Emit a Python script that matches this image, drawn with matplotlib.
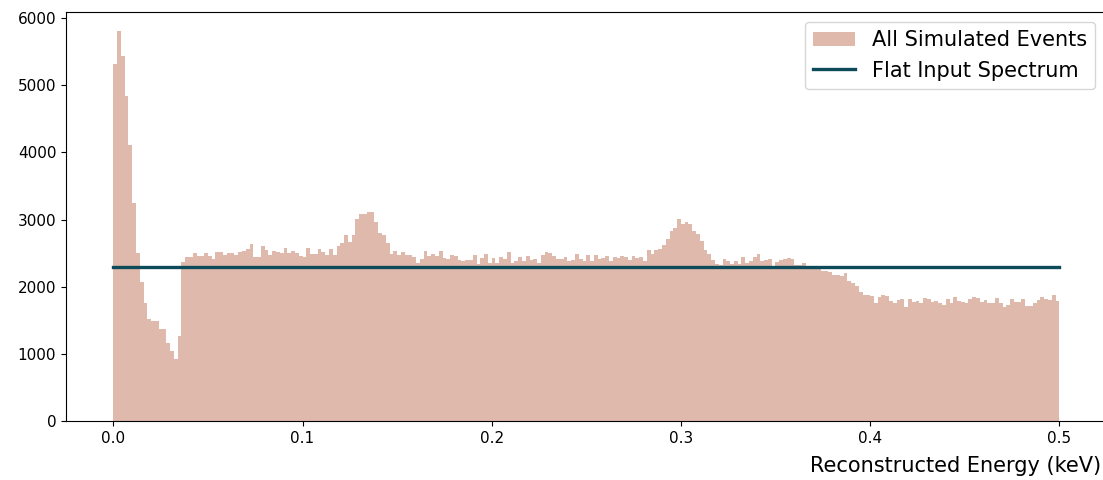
import numpy as np
import matplotlib
matplotlib.use("Agg")
import matplotlib.pyplot as plt

# histogram bins: 250 bins of 2 eV between 0 and 0.5 keV
e_min = 0.0
e_max = 0.5
n_bins = 250

# counts per bin
counts_peak = [5320, 5800, 5436, 4836, 4107, 3249, 2505, 2073, 1761, 1513,
               1488, 1485, 1364, 1364, 1166, 1042, 917, 1265, 2370, 2445]

counts_mid = [2440, 2495, 2455, 2455, 2505, 2455, 2406, 2515, 2515, 2465,
              2505, 2495, 2475, 2515, 2535, 2564, 2634, 2445, 2436, 2604, 2545,
              2465, 2525, 2515, 2505, 2570, 2495, 2535, 2495, 2455, 2445,
              2570, 2485, 2485, 2555, 2515, 2465, 2564, 2465, 2604, 2644, 2763,
              2669, 2763, 3006, 3080, 3080, 3105, 3105, 2966, 2798, 2768,
              2644, 2480, 2525, 2475, 2515, 2475, 2465, 2436, 2346, 2406, 2525, 2460,
              2485, 2455, 2525, 2426, 2406, 2475, 2455, 2396, 2386, 2396,
              2396, 2465, 2336, 2420, 2485, 2356, 2426, 2356, 2445, 2406, 2515,
              2356, 2386, 2436, 2386, 2455, 2396, 2406, 2356, 2465, 2515,
              2495, 2455, 2416, 2416, 2436, 2386, 2396, 2485, 2416, 2386, 2465,
              2386, 2465, 2416, 2426, 2455, 2386, 2436, 2426, 2455, 2436,
              2396, 2455, 2426, 2436, 2376, 2545, 2485, 2545, 2564, 2624, 2703, 2822,
              2872, 3001, 2932, 2961, 2932, 2822, 2783, 2674, 2545, 2485,
              2396, 2336, 2320, 2406, 2376, 2336, 2376, 2336, 2436, 2356, 2386]

counts_tail = [2436, 2485, 2386, 2396, 2416, 2267, 2366, 2396, 2416, 2426,
               2406, 2316, 2316, 2356, 2306, 2287, 2267, 2287, 2237, 2227, 2217,
               2177, 2168, 2158, 2197, 2088, 2058, 2009, 1920, 1870, 1870,
               1860, 1761, 1840, 1880, 1860, 1781, 1751, 1801, 1820, 1691,
               1820, 1771, 1781, 1751, 1830, 1820, 1771, 1791, 1751, 1721,
               1810, 1761, 1840, 1791, 1771, 1751, 1810, 1840, 1830, 1771, 1801,
               1751, 1751, 1830, 1751, 1701, 1721, 1810, 1771, 1771, 1810,
               1711, 1711, 1751, 1801, 1850, 1820, 1800, 1880, 1780]

flat_level = 2300

hist_label = "All Simulated Events"
line_label = "Flat Input Spectrum"
x_label = "Reconstructed Energy (keV)"


def main():
    counts = np.array(counts_peak + counts_mid + counts_tail, dtype=float)
    edges = np.linspace(e_min, e_max, n_bins + 1)
    centers = 0.5 * (edges[:-1] + edges[1:])

    fig = plt.figure(figsize=(11.03, 4.8), dpi=100)
    ax = fig.add_axes([66 / 1103, 59 / 480, 1040.6 / 1103, 409 / 480])

    ax.hist(centers, bins=edges, weights=counts, color="#dfb9ab",
            label=hist_label)
    ax.plot([e_min, e_max], [flat_level, flat_level], color="#0d4a5a",
            lw=2.4, label=line_label)

    ax.set_xlim(-0.025, 0.525)
    ax.set_ylim(0, 6090)
    ax.set_xticks(np.arange(0, 0.51, 0.1))
    ax.set_yticks(np.arange(0, 6001, 1000))
    ax.tick_params(labelsize=11)
    ax.set_xlabel(x_label, fontsize=15, ha="right")
    ax.xaxis.set_label_coords((1101 - 66) / 1040.6, -0.085)
    ax.legend(loc="upper right", fontsize=15, borderaxespad=0,
              bbox_to_anchor=((1095 - 66) / 1040.6, (421 - 22) / 409))

    fig.savefig("out.png", dpi=100)
    plt.close(fig)


if __name__ == "__main__":
    main()
